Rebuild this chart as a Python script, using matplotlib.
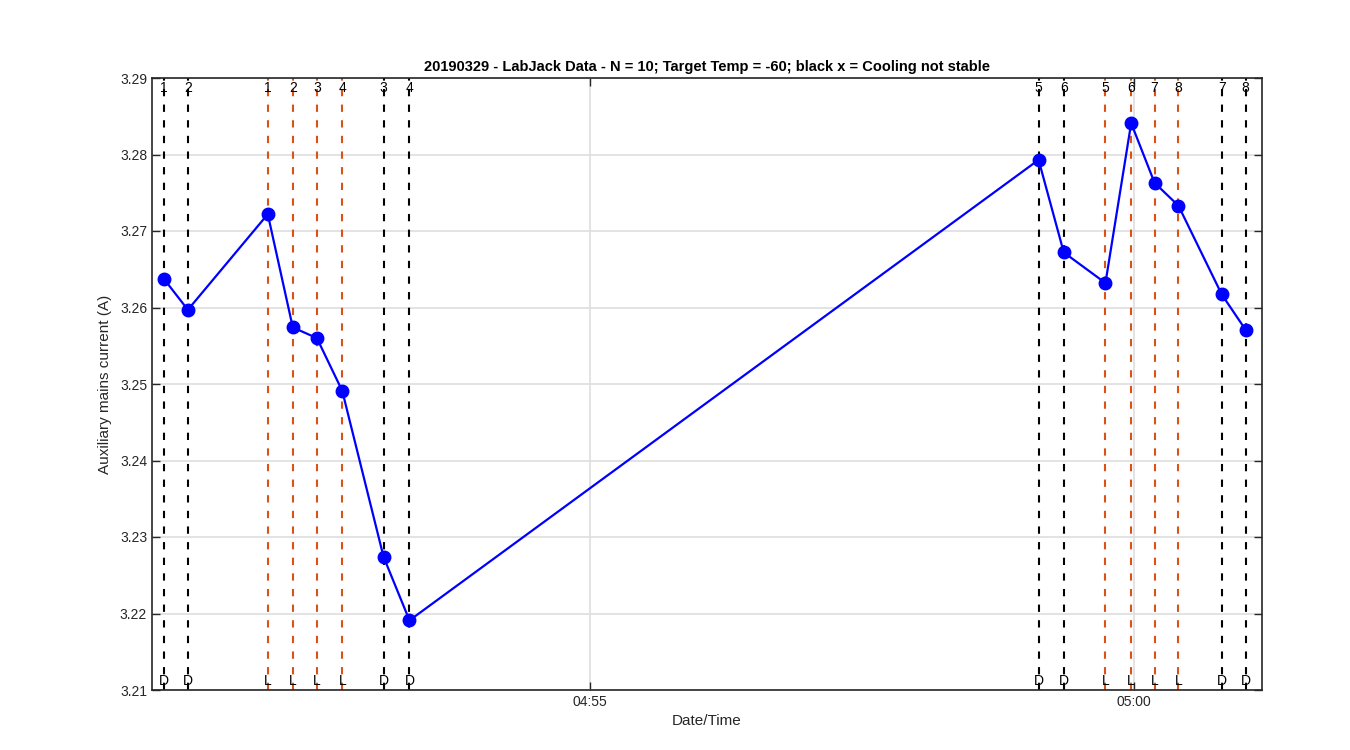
import matplotlib
matplotlib.use("Agg")
import matplotlib.pyplot as plt
import matplotlib.dates as mdates
import matplotlib.transforms as mtransforms
import pandas as pd

plt.rcParams['font.family'] = ['Liberation Sans', 'DejaVu Sans']

# ---- data ----
date = "2019-03-29 "
times = ["04:51:04.8", "04:51:17.9", "04:52:02.0", "04:52:15.8", "04:52:29.1", "04:52:43.1",
         "04:53:05.9", "04:53:20.2", "04:59:07.4", "04:59:21.3", "04:59:44.3", "04:59:58.5",
         "05:00:11.4", "05:00:24.6", "05:00:48.5", "05:01:01.6"]
current = [3.2637, 3.2597, 3.2722, 3.2574, 3.2560, 3.2491, 3.2274, 3.2191,
           3.2793, 3.2672, 3.2632, 3.2841, 3.2763, 3.2733, 3.2617, 3.2571]
kind = ["D", "D", "L", "L", "L", "L", "D", "D", "D", "D", "L", "L", "L", "L", "D", "D"]
index_labels = ["1", "2", "1", "2", "3", "4", "3", "4", "5", "6", "5", "6", "7", "8", "7", "8"]
xlim = ["04:50:58.1", "05:01:10.7"]
ylim = [3.21, 3.29]
yticks = [3.21, 3.22, 3.23, 3.24, 3.25, 3.26, 3.27, 3.28, 3.29]
xticks = ["04:55:00", "05:00:00"]
title = "20190329 - LabJack Data - N = 10; Target Temp = -60; black x = Cooling not stable"

t = pd.to_datetime([date + s for s in times])
tl = pd.to_datetime([date + s for s in xlim])
tt = pd.to_datetime([date + s for s in xticks])

fig = plt.figure(figsize=(13.5, 7.5), dpi=100)
ax = fig.add_axes([152/1350, 60/750, 1110/1350, 612/750])

axc = '#262626'
ax.grid(True, color='#dedede', linewidth=1.2, zorder=0)
ax.set_axisbelow(True)

colors = {"D": "black", "L": "#D95319"}
trans = mtransforms.blended_transform_factory(ax.transData, ax.transAxes)
for ti, k, lab in zip(t, kind, index_labels):
    ax.axvline(ti, color=colors[k], linestyle=(0, (3.5, 4)), linewidth=1.5, zorder=2)
    ax.text(ti, 0.983, lab, transform=trans, ha='center', va='center', fontsize=10, color='black', zorder=4)
    ax.text(ti, 0.015, k, transform=trans, ha='center', va='center', fontsize=10, color='black', zorder=4)

ax.plot(t, current, color='#0000ff', linewidth=1.6, marker='o', markersize=9, zorder=3)

ax.set_xlim(tl[0], tl[1])
ax.set_ylim(*ylim)
ax.set_yticks(yticks)
ax.set_yticklabels(["%.2f" % v for v in yticks])
ax.set_xticks(tt)
ax.xaxis.set_major_formatter(mdates.DateFormatter('%H:%M'))

ax.tick_params(direction='in', length=6, width=1, colors=axc, labelsize=10, top=True, right=True,
               labeltop=False, labelright=False)
for sp in ax.spines.values():
    sp.set_color(axc)
    sp.set_linewidth(1.2)

ax.set_xlabel("Date/Time", fontsize=11, color=axc)
ax.set_ylabel("Auxiliary mains current (A)", fontsize=11, color=axc, labelpad=6)
ax.set_title(title, fontsize=10.5, fontweight='bold', color='black', pad=5)

fig.savefig("out.png", dpi=100)
